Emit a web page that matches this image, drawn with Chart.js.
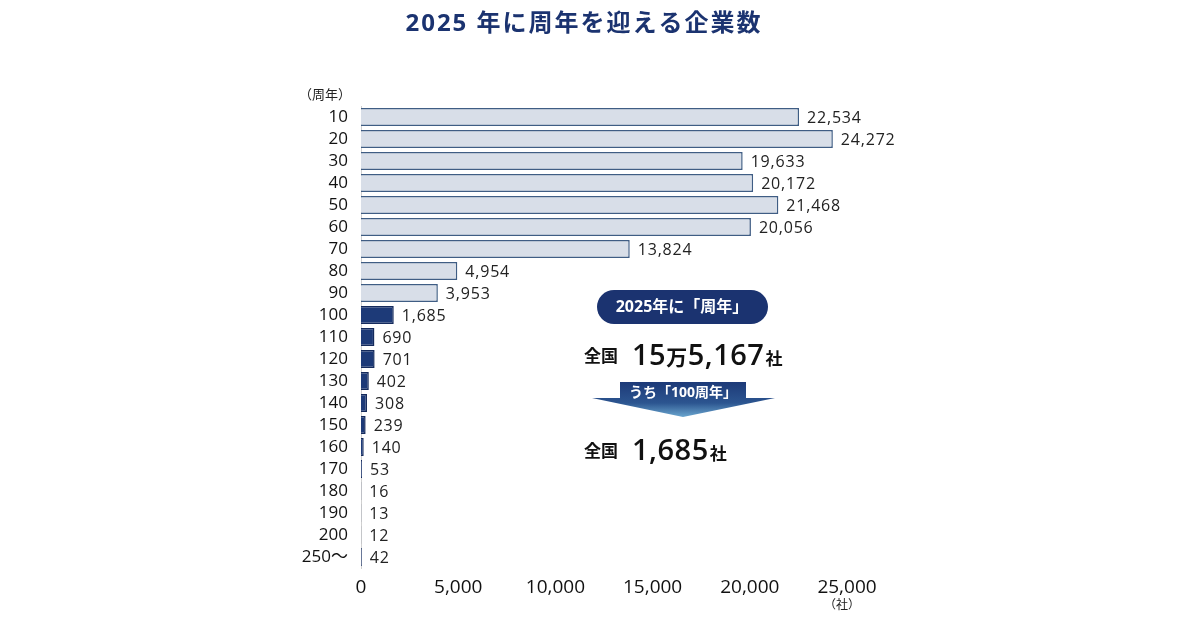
<!DOCTYPE html>
<html lang="ja">
<head>
<meta charset="utf-8">
<title>2025 年に周年を迎える企業数</title>
<script src="https://cdn.jsdelivr.net/npm/chart.js@4.4.1/dist/chart.umd.min.js"></script>
<style>
    html, body { margin: 0; padding: 0; background: #fff; }
    #wrap { width: 1200px; height: 630px; position: relative; }
</style>
</head>
<body>
<div id="wrap"><canvas id="chart" width="1200" height="630"></canvas></div>
<script>
    /* data */
    const years = ["10", "20", "30", "40", "50", "60", "70", "80", "90", "100", "110",
                   "120", "130", "140", "150", "160", "170", "180", "190", "200", "250～"];
    const companies = [22534, 24272, 19633, 20172, 21468, 20056, 13824, 4954, 3953, 1685, 690,
                       701, 402, 308, 239, 140, 53, 16, 13, 12, 42];
    const xTicks = [0, 5000, 10000, 15000, 20000, 25000];

    // latin glyphs from Open Sans, kana/kanji from Noto CJK
    const FONT = "'Open Sans', 'Noto Sans CJK JP', sans-serif";
    const NAVY = "#1b3370";

    // bars from 100 years on are drawn dark
    const fills = years.map((y, i) => i >= 9 ? "#1d3a78" : "#d8dee8");
    const borders = years.map((y, i) => i >= 9 ? "#142a5c" : "#3f5d84");

    const money = new Intl.NumberFormat('en-US');

    /* value labels at the end of every bar */
    const valueLabels = {
        id: 'valueLabels',
        afterDatasetsDraw(chart) {
            const ctx = chart.ctx;
            const meta = chart.getDatasetMeta(0);
            ctx.save();
            ctx.font = "16px " + FONT;
            ctx.letterSpacing = "0.8px";
            ctx.fillStyle = "#222";
            ctx.textBaseline = "middle";
            ctx.textAlign = "left";
            meta.data.forEach((bar, i) => {
                ctx.fillText(money.format(companies[i]), bar.x + 8, bar.y + 1);
            });
            ctx.restore();
        }
    };

    /* title, unit labels and the summary box on the right */
    const extras = {
        id: 'extras',
        afterDraw(chart) {
            const ctx = chart.ctx;
            ctx.save();

            // title
            ctx.fillStyle = NAVY;
            ctx.font = "bold 24px " + FONT;
            ctx.textAlign = "center";
            ctx.textBaseline = "middle";
            ctx.letterSpacing = "2px";
            ctx.fillText("2025 年に周年を迎える企業数", 584, 24);
            ctx.letterSpacing = "0px";

            // units
            ctx.fillStyle = "#222";
            ctx.font = "13px " + FONT;
            ctx.fillText("（周年）", 325, 95);
            ctx.font = "12px " + FONT;
            ctx.fillText("（社）", 842, 606);

            // pill
            ctx.fillStyle = NAVY;
            ctx.beginPath();
            ctx.roundRect(597, 290, 171, 34, 17);
            ctx.fill();
            ctx.fillStyle = "#fff";
            ctx.font = "bold 16px " + FONT;
            ctx.fillText("2025年に「周年」", 682, 307);

            // total line
            drawTotal(ctx, 355, ["15", "万", "5,167"]);

            // arrow
            const g = ctx.createLinearGradient(0, 382, 0, 417);
            g.addColorStop(0, "#1d3a78");
            g.addColorStop(0.6, "#2c5590");
            g.addColorStop(1, "#6aa6cf");
            ctx.fillStyle = g;
            ctx.beginPath();
            ctx.moveTo(620, 382);
            ctx.lineTo(746, 382);
            ctx.lineTo(746, 398);
            ctx.lineTo(775, 398);
            ctx.lineTo(683, 417);
            ctx.lineTo(592, 398);
            ctx.lineTo(620, 398);
            ctx.closePath();
            ctx.fill();
            ctx.fillStyle = "#fff";
            ctx.font = "bold 14px " + FONT;
            ctx.textAlign = "center";
            ctx.fillText("うち「100周年」", 683, 397);

            drawTotal(ctx, 450, ["1,685"]);
            ctx.restore();
        }
    };

    function drawTotal(ctx, y, parts) {
        ctx.textAlign = "left";
        ctx.textBaseline = "alphabetic";
        ctx.fillStyle = "#111";
        ctx.font = "bold 17px " + FONT;
        ctx.fillText("全国", 584, y + 7);
        let x = 632;
        ctx.letterSpacing = "0.5px";
        parts.forEach(p => {
            ctx.font = (p === "万" ? "600 21px " : "600 29px ") + FONT;
            ctx.fillText(p, x, y + 10);
            x += ctx.measureText(p).width;
        });
        ctx.letterSpacing = "0px";
        ctx.font = "bold 17px " + FONT;
        ctx.fillText("社", x + 1, y + 10);
    }

    const ctx = document.getElementById('chart').getContext('2d');
    new Chart(ctx, {
        type: 'bar',
        data: {
            labels: years,
            datasets: [{
                label: '企業数',
                data: companies,
                backgroundColor: fills,
                borderColor: borders,
                borderWidth: 1.5,
                borderSkipped: 'left',
                barPercentage: 0.82,
                categoryPercentage: 1
            }]
        },
        options: {
            indexAxis: 'y',
            responsive: false,
            animation: false,
            layout: { padding: { top: 106, right: 353, left: 0, bottom: 0 } },
            plugins: {
                legend: { display: false },
                tooltip: { enabled: false }
            },
            scales: {
                x: {
                    min: 0,
                    max: 25000,
                    afterBuildTicks: axis => { axis.ticks = xTicks.map(v => ({ value: v })); },
                    afterFit: axis => { axis.height = 62; },
                    grid: { display: false },
                    border: { display: false },
                    ticks: {
                        padding: 0,
                        color: "#111",
                        font: { family: FONT, size: 19 },
                        callback: v => money.format(v)
                    }
                },
                y: {
                    afterFit: axis => { axis.width = 361; },
                    grid: { display: false, drawTicks: false },
                    border: { display: true, color: "#d0d0d0", width: 1 },
                    ticks: {
                        autoSkip: false,
                        padding: 13,
                        color: "#111",
                        font: { family: FONT, size: 17 }
                    }
                }
            }
        },
        plugins: [valueLabels, extras]
    });
</script>
</body>
</html>
